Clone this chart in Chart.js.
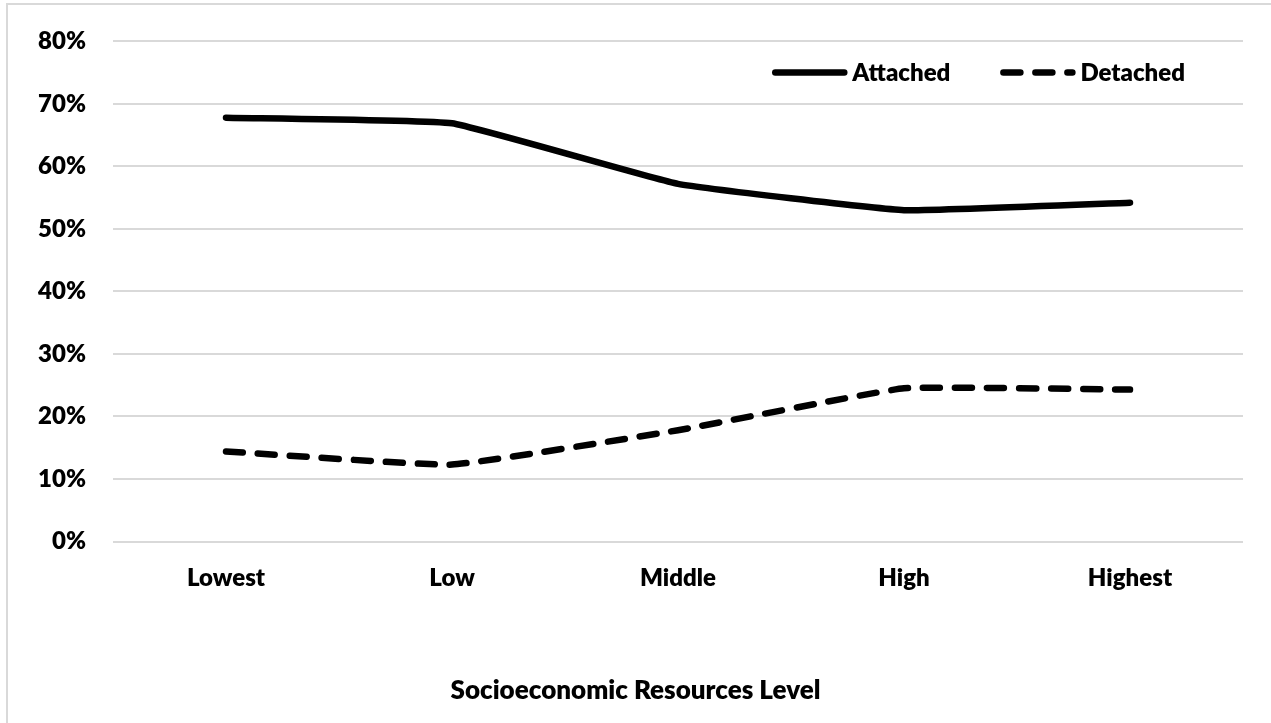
<!DOCTYPE html>
<html>
<head>
<meta charset="utf-8">
<title>Attachment by Socioeconomic Resources Level</title>
<script src="https://cdn.jsdelivr.net/npm/chart.js@4.4.1/dist/chart.umd.min.js"></script>
<style>
  html, body { margin: 0; padding: 0; background: #ffffff; overflow: hidden; }
  #frame {
    position: absolute; left: 6px; top: 3px; width: 1400px; height: 900px;
    border-left: 2px solid #d9d9d9; border-top: 2px solid #d9d9d9;
    pointer-events: none;
  }
  #chart { position: absolute; left: 0; top: 0; }
</style>
</head>
<body>
<canvas id="chart" width="1271" height="723"></canvas>
<div id="frame"></div>
<script>
// Resource levels along the horizontal axis
const categories = ['Lowest', 'Low', 'Middle', 'High', 'Highest'];
// Share of each group (percent)
const attached = [67.8, 66.9, 57.2, 53.0, 54.2];
const detached = [14.4, 12.3, 17.8, 24.5, 24.3];
// Vertical axis range and step (percent)
const yMin = 0;
const yMax = 80;
const yStep = 10;
const xTitle = 'Socioeconomic Resources Level';

const FONT = 'Lato, "Open Sans", "Liberation Sans", sans-serif';
const WEIGHT = '800';
const DASH = [17, 15];

// Bottom title box: font size, line height and padding
const TITLE_SIZE = 26;
const TITLE_PAD = { top: 0, bottom: 17 };
const TITLE_BOX = TITLE_SIZE * 1.2 + TITLE_PAD.top + TITLE_PAD.bottom;
const BOTTOM_BAND = 181.5; // space below the plot area

// Legend drawn inside the plot area, near the top-right corner
const insideLegend = {
  id: 'insideLegend',
  afterDraw(chart) {
    const { ctx, chartArea } = chart;
    const sampleLen = 75, textGap = 5, itemGap = 50;
    const cy = chartArea.top + 31;
    ctx.save();
    ctx.font = WEIGHT + ' 24px ' + FONT;
    ctx.textBaseline = 'middle';
    const items = chart.data.datasets.map(ds => ({
      label: ds.label, dash: ds.borderDash || [], width: ds.borderWidth,
      color: ds.borderColor, tw: ctx.measureText(ds.label).width
    }));
    let total = 0;
    items.forEach((it, i) => { total += sampleLen + textGap + it.tw + (i ? itemGap : 0); });
    let x = chartArea.right - 58 - total;
    items.forEach((it, i) => {
      if (i) x += itemGap;
      ctx.beginPath();
      ctx.setLineDash(it.dash);
      ctx.lineDashOffset = 0;
      ctx.lineCap = 'round';
      ctx.lineWidth = it.width;
      ctx.strokeStyle = it.color;
      ctx.moveTo(x + 3, cy);
      ctx.lineTo(x + sampleLen - 3, cy);
      ctx.stroke();
      ctx.setLineDash([]);
      ctx.fillStyle = '#000000';
      ctx.textAlign = 'left';
      ctx.fillText(it.label, x + sampleLen + textGap, cy + 1);
      x += sampleLen + textGap + it.tw;
    });
    ctx.restore();
  }
};

new Chart(document.getElementById('chart'), {
  type: 'line',
  data: {
    labels: categories,
    datasets: [
      {
        label: 'Attached',
        data: attached,
        borderColor: '#000000',
        backgroundColor: '#000000',
        borderWidth: 6.5,
        borderCapStyle: 'round',
        borderJoinStyle: 'round',
        tension: 0.1,
        pointRadius: 0,
        fill: false
      },
      {
        label: 'Detached',
        data: detached,
        borderColor: '#000000',
        backgroundColor: '#000000',
        borderWidth: 6.5,
        borderDash: DASH,
        borderCapStyle: 'round',
        borderJoinStyle: 'round',
        tension: 0.1,
        pointRadius: 0,
        fill: false
      }
    ]
  },
  options: {
    responsive: false,
    animation: false,
    devicePixelRatio: 1,
    layout: { padding: { left: 0, top: 40, right: 0, bottom: 0 } },
    plugins: {
      legend: { display: false },
      tooltip: { enabled: false },
      title: {
        display: true,
        position: 'bottom',
        text: xTitle,
        color: '#000000',
        font: { family: FONT, size: TITLE_SIZE, weight: WEIGHT, lineHeight: 1.2 },
        padding: TITLE_PAD
      }
    },
    scales: {
      x: {
        offset: true,
        grid: { display: false, drawTicks: false },
        border: { display: false },
        ticks: {
          color: '#000000',
          font: { family: FONT, size: 24, weight: WEIGHT },
          padding: 22,
          maxRotation: 0,
          autoSkip: false
        },
        afterFit(scale) { scale.height = BOTTOM_BAND - TITLE_BOX; }
      },
      y: {
        min: yMin,
        max: yMax,
        grid: { color: '#d9d9d9', lineWidth: 2, drawTicks: false },
        border: { display: false },
        ticks: {
          stepSize: yStep,
          color: '#000000',
          font: { family: FONT, size: 24, weight: WEIGHT },
          padding: 27,
          callback: v => v + '%'
        },
        afterFit(scale) { scale.width = 113; }
      },
      // empty right-hand margin beside the plot area
      yRight: {
        position: 'right',
        min: yMin,
        max: yMax,
        grid: { display: false, drawTicks: false },
        border: { display: false },
        ticks: { display: false },
        afterFit(scale) { scale.width = 28; }
      }
    }
  },
  plugins: [insideLegend]
});
</script>
</body>
</html>
